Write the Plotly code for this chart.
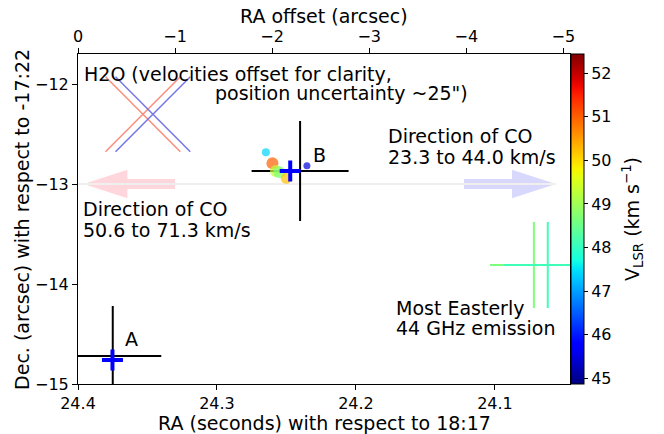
import numpy as np
import plotly.graph_objects as go

# ---------------- data ----------------
ra0 = 24.4                     # RA seconds at zero offset
dec_deg = -17.37               # declination for RA-offset scaling
ra_range = [24.4, 24.046]      # bottom axis (RA seconds)
dec_range = [-15.0, -11.7]
vmin, vmax = 44.87, 52.44
cbar_ticks = [45, 46, 47, 48, 49, 50, 51, 52]

# H2O maser spots (velocity coloured)
h2o_ra = [24.2648, 24.2601, 24.2576, 24.2552, 24.2502, 24.2353]
h2o_dec = [-12.683, -12.793, -12.870, -12.883, -12.943, -12.817]
h2o_vel = [47.4, 51.0, 49.3, 48.7, 50.2, 45.5]
h2o_size = [8, 12, 12, 12, 11, 7]

# blue plus markers
plus_ra = [24.3752, 24.2473]
plus_dec = [-14.76, -12.87]

# continuum sources A and B with uncertainty crosses
src_names = ["A", "B"]
src_ra = [24.375, 24.2402]
src_dec = [-14.72, -12.87]
src_err_ra = [0.0349, 0.0349]
src_err_dec = [0.5, 0.5]

# most easterly 44 GHz emission
east_ra = [24.072, 24.062]
east_dec = [-13.81, -13.81]
east_vel = [48.66, 48.10]
east_err_ra = [0.0316, 0.0316]
east_err_dec = [0.43, 0.43]

# position-uncertainty X markers
ux_ra = [24.3533, 24.3461]
ux_dec = [-12.302, -12.302]
ux_half_ra = 0.0269
ux_half_dec = 0.375
ux_colors = ["#f98e7a", "#7676e8"]

# CO outflow direction arrows
arrow_tail_ra = [24.3302, 24.1223]
arrow_tip_ra = [24.3960, 24.0562]
arrow_dec = -13.0
arrow_shaft_half = 0.05
arrow_head_half = 0.142
arrow_head_len = 0.0315
arrow_colors = ["#ffd6dc", "#d8d8fc"]

# ---------------- helpers ----------------
def jet(f):
    f = min(max(f, 0.0), 1.0)
    r = np.interp(f, [0, 0.35, 0.66, 0.89, 1], [0, 0, 1, 1, 0.5])
    g = np.interp(f, [0, 0.125, 0.375, 0.64, 0.91, 1], [0, 0, 1, 1, 0, 0])
    b = np.interp(f, [0, 0.11, 0.34, 0.65, 1], [0.5, 1, 1, 0, 0])
    return "rgb(%d,%d,%d)" % (round(r * 255), round(g * 255), round(b * 255))

jet_scale = [[s, jet(s)] for s in np.linspace(0, 1, 41)]
vcol = lambda v: jet((v - vmin) / (vmax - vmin))

asec_per_s = 15 * np.cos(np.radians(dec_deg))
top_range = [(ra_range[0] - ra0) * asec_per_s, -(ra0 - ra_range[1]) * asec_per_s]

FONT = "DejaVu Sans"
fig = go.Figure()

# faint line joining the arrows
fig.add_trace(go.Scatter(x=[ra_range[0], arrow_tip_ra[1]], y=[arrow_dec, arrow_dec],
                         mode="lines", line=dict(color="#efefef", width=2),
                         hoverinfo="skip", showlegend=False))

# arrows
shapes = []
for tail, tip, col in zip(arrow_tail_ra, arrow_tip_ra, arrow_colors):
    d = 1 if tip > tail else -1
    base = tip - d * arrow_head_len
    pts = [(tail, arrow_dec + arrow_shaft_half), (base, arrow_dec + arrow_shaft_half),
           (base, arrow_dec + arrow_head_half), (tip, arrow_dec),
           (base, arrow_dec - arrow_head_half), (base, arrow_dec - arrow_shaft_half),
           (tail, arrow_dec - arrow_shaft_half)]
    path = "M " + " L ".join("%f,%f" % p for p in pts) + " Z"
    shapes.append(dict(type="path", path=path, xref="x", yref="y",
                       fillcolor=col, line=dict(width=0), layer="below"))

# uncertainty X markers
for cx, cy, col in zip(ux_ra, ux_dec, ux_colors):
    xs = [cx + ux_half_ra, cx - ux_half_ra, None, cx - ux_half_ra, cx + ux_half_ra]
    ys = [cy + ux_half_dec, cy - ux_half_dec, None, cy + ux_half_dec, cy - ux_half_dec]
    fig.add_trace(go.Scatter(x=xs, y=ys, mode="lines", line=dict(color=col, width=1.5),
                             hoverinfo="skip", showlegend=False))

# source crosses
for i in range(len(src_ra)):
    fig.add_trace(go.Scatter(
        x=[src_ra[i]], y=[src_dec[i]], mode="markers",
        marker=dict(size=1, opacity=0),
        error_x=dict(type="data", array=[src_err_ra[i]], width=0, thickness=2, color="black"),
        error_y=dict(type="data", array=[src_err_dec[i]], width=0, thickness=2, color="black"),
        showlegend=False, hoverinfo="skip"))

# easterly crosses
for i in range(len(east_ra)):
    c = vcol(east_vel[i])
    fig.add_trace(go.Scatter(
        x=[east_ra[i]], y=[east_dec[i]], mode="markers",
        marker=dict(size=1, opacity=0),
        error_x=dict(type="data", array=[east_err_ra[i]], width=0, thickness=2, color=c),
        error_y=dict(type="data", array=[east_err_dec[i]], width=0, thickness=2, color=c),
        showlegend=False, hoverinfo="skip"))

# H2O spots
fig.add_trace(go.Scatter(
    x=h2o_ra, y=h2o_dec, mode="markers",
    marker=dict(size=h2o_size, color=h2o_vel, colorscale=jet_scale, cmin=vmin, cmax=vmax,
                line=dict(width=0), showscale=True,
                colorbar=dict(x=1.002, xanchor="left", xpad=0, ypad=0, y=0.5, yanchor="middle",
                              len=1, lenmode="fraction", thickness=13, thicknessmode="pixels",
                              outlinewidth=1, outlinecolor="black",
                              tickvals=cbar_ticks, ticks="outside", ticklen=4, tickcolor="black",
                              tickfont=dict(family=FONT, size=16, color="black"))),
    showlegend=False))

# blue plus markers
fig.add_trace(go.Scatter(x=plus_ra, y=plus_dec, mode="markers",
                         marker=dict(symbol="cross-thin", size=15, line=dict(width=4, color="blue")),
                         showlegend=False))

# dummy trace for the top axis
fig.add_trace(go.Scatter(x=[0], y=[dec_range[0]], xaxis="x2", mode="markers",
                         marker=dict(opacity=0), hoverinfo="skip", showlegend=False))

def ann(text, x, y, xanchor="left", size=19, angle=0, align="left"):
    return dict(text=text, x=x, y=y, xref="paper", yref="paper", xanchor=xanchor,
                yanchor="middle", showarrow=False, textangle=angle, align=align,
                font=dict(family=FONT, size=size, color="black"))

annotations = [
    ann("H2O (velocities offset for clarity,", 0.0085, 0.939),
    ann("position uncertainty ~25\")", 0.797, 0.882, xanchor="right"),
    ann("B", 0.4736, 0.694),
    ann("A", 0.0915, 0.135),
    ann("Direction of CO", 0.625, 0.7515),
    ann("23.3 to 44.0 km/s", 0.625, 0.6879),
    ann("Direction of CO", 0.0065, 0.5303),
    ann("50.6 to 71.3 km/s", 0.0065, 0.4667),
    ann("Most Easterly", 0.643, 0.2318),
    ann("44 GHz emission", 0.643, 0.1682),
    ann("RA (seconds) with respect to 18:17", 0.5, -0.118, xanchor="center"),
    ann("RA offset (arcsec)", 0.5, 1.115, xanchor="center"),
    ann("Dec. (arcsec) with respect to -17:22", -0.114, 0.5, xanchor="center", angle=-90),
    ann("V<sub>LSR</sub> (km s<sup>−1</sup>)", 1.126, 0.5, xanchor="center", angle=-90),
]

axis_common = dict(showgrid=False, zeroline=False, showline=True, linecolor="black", linewidth=1,
                   ticks="outside", ticklen=5, tickcolor="black",
                   tickfont=dict(family=FONT, size=16, color="black"))

fig.update_layout(
    width=664, height=434, margin=dict(l=78, r=94, t=54, b=50),
    paper_bgcolor="white", plot_bgcolor="white",
    xaxis=dict(range=ra_range, tickvals=[24.4, 24.3, 24.2, 24.1], tickformat=".1f", **axis_common),
    xaxis2=dict(range=top_range, overlaying="x", side="top", anchor="y", dtick=1, tick0=0,
                **axis_common),
    yaxis=dict(range=dec_range, dtick=1, tick0=-15, mirror=True, **axis_common),
    shapes=shapes, annotations=annotations,
)

fig.write_html("out.html")
